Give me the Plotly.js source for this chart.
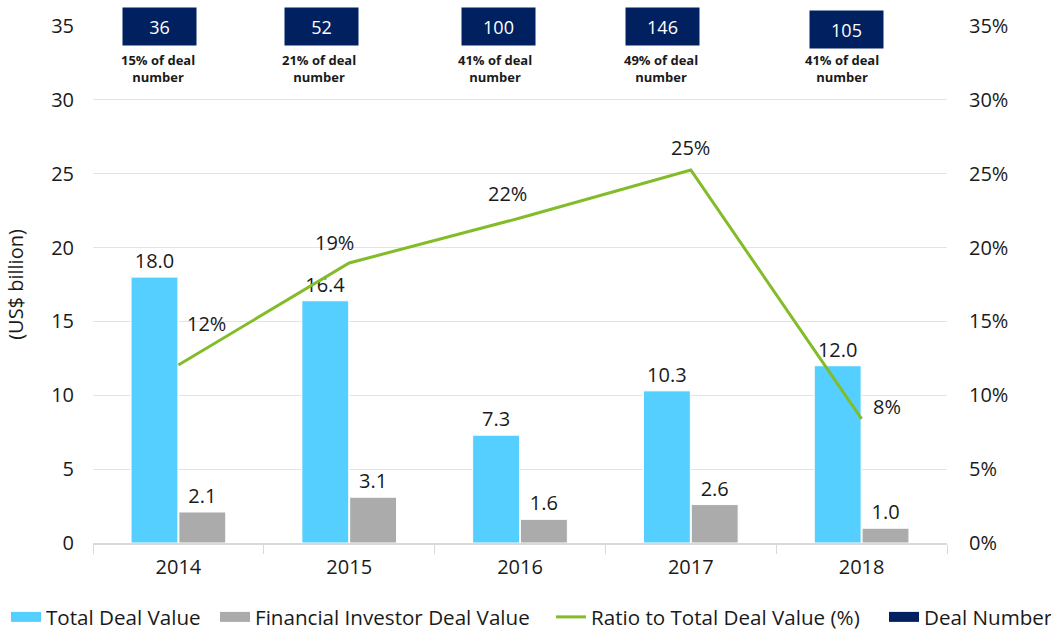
<!DOCTYPE html>
<html>
<head>
<meta charset="utf-8">
<script src="https://cdn.plot.ly/plotly-3.0.1.min.js"></script>
<style>
html,body{margin:0;padding:0;background:#fff;}
#chart{width:1051px;height:632px;}
</style>
</head>
<body>
<div id="chart"></div>
<script>
// ---- data ----
const years = ['2014', '2015', '2016', '2017', '2018'];
const totalDealValue = [18.0, 16.4, 7.3, 10.3, 12.0];
const financialInvestorValue = [2.1, 3.1, 1.6, 2.6, 1.0];
const ratioPct = [12.05, 18.96, 22.0, 25.25, 8.4];
const ratioLabels = ['12%', '19%', '22%', '25%', '8%'];
const dealNumber = [36, 52, 100, 146, 105];
const dealShareLabels = ['15% of deal number', '21% of deal number', '41% of deal number', '49% of deal number', '41% of deal number'];

// ---- styles ----
const FONT = 'Open Sans, Noto Sans, sans-serif';
const TXT = '#1a1a1a';
const BLUE = '#55cfff';
const GRAY = '#ababab';
const GREEN = '#82bc28';
const NAVY = '#002060';

const ratioShift = [[28, 42], [-15, 20], [-13, 25], [0, 23], [25, 12]];
const boxShift = [[-19, 0], [-28, 0], [-22, 0], [-28, 0], [-15, -3]];
const shareShift = [-20, -30, -25, -30, -20];

function legendKey(name, color, width, legendId) {
  return {
    type: 'scatter', mode: 'lines', name: name, x: [years[0]], y: [null],
    line: {color: color, width: width}, legend: legendId, showlegend: true, hoverinfo: 'skip'
  };
}

const traces = [
  {
    type: 'bar', name: 'Total Deal Value', x: years, y: totalDealValue,
    marker: {color: BLUE, line: {color: '#ffffff', width: 1}}, showlegend: false,
    text: totalDealValue.map(v => v.toFixed(1)), textposition: 'outside',
    textfont: {family: FONT, size: 20, color: TXT}, cliponaxis: false
  },
  {
    type: 'bar', name: 'Financial Investor Deal Value', x: years, y: financialInvestorValue,
    marker: {color: GRAY, line: {color: '#ffffff', width: 1}}, showlegend: false,
    text: financialInvestorValue.map(v => v.toFixed(1)), textposition: 'outside',
    textfont: {family: FONT, size: 20, color: TXT}, cliponaxis: false
  },
  {
    type: 'scatter', mode: 'lines', name: 'Ratio to Total Deal Value (%)', x: years, y: ratioPct,
    yaxis: 'y2', line: {color: GREEN, width: 3}, cliponaxis: false, legend: 'legend3'
  },
  legendKey('Total Deal Value', BLUE, 12, 'legend'),
  legendKey('Financial Investor Deal Value', GRAY, 12, 'legend2'),
  legendKey('Deal Number', NAVY, 12, 'legend4')
];

const annotations = [];
years.forEach((yr, i) => {
  annotations.push({
    x: i, y: ratioPct[i], xref: 'x', yref: 'y2', text: ratioLabels[i], showarrow: false,
    xshift: ratioShift[i][0], yshift: ratioShift[i][1],
    font: {family: FONT, size: 20, color: TXT}
  });
  annotations.push({
    x: i, y: 35, xref: 'x', yref: 'y', text: String(dealNumber[i]), showarrow: false,
    xshift: boxShift[i][0], yshift: boxShift[i][1], width: 71, height: 35,
    bgcolor: NAVY, font: {family: FONT, size: 18, color: '#ffffff'}, valign: 'middle'
  });
  const parts = dealShareLabels[i].split(' ');
  const label = parts.slice(0, 3).join(' ') + '<br>' + parts.slice(3).join(' ');
  annotations.push({
    x: i, y: 35, xref: 'x', yref: 'y', text: '<b>' + label + '</b>', showarrow: false,
    xshift: shareShift[i], yshift: -42,
    font: {family: FONT, size: 13, color: TXT}
  });
});

function legendAt(px) {
  return {
    orientation: 'h', xref: 'container', yref: 'container',
    x: px / 1051, xanchor: 'left', y: 15 / 632, yanchor: 'middle',
    font: {family: FONT, size: 20.6, color: TXT}, bgcolor: 'rgba(0,0,0,0)'
  };
}

const layout = {
  width: 1051, height: 632,
  margin: {l: 93, r: 104, t: 26, b: 89, autoexpand: false},
  paper_bgcolor: '#ffffff', plot_bgcolor: '#ffffff',
  font: {family: FONT, size: 20, color: TXT},
  barmode: 'group', bargap: 0.44, bargroupgap: 0.02,
  showlegend: true,
  legend: legendAt(6),
  legend2: legendAt(215),
  legend3: legendAt(551),
  legend4: legendAt(884),
  xaxis: {
    type: 'category', range: [-0.5, 4.5], showline: true, linecolor: '#d9d9d9', linewidth: 2,
    ticks: 'outside', tickson: 'boundaries', ticklen: 9, tickcolor: '#d9d9d9', tickwidth: 1,
    ticklabelstandoff: 5,
    showgrid: false, tickfont: {family: FONT, size: 20, color: TXT}
  },
  yaxis: {
    range: [0, 35], dtick: 5, showgrid: true, gridcolor: '#e3e3e3', gridwidth: 1,
    zeroline: false, showline: false,
    ticks: 'outside', ticklen: 14, tickcolor: 'rgba(0,0,0,0)',
    tickfont: {family: FONT, size: 20, color: TXT},
    title: {text: '(US$ billion)', font: {family: FONT, size: 20, color: TXT}, standoff: 22}
  },
  yaxis2: {
    range: [0, 35], dtick: 5, overlaying: 'y', side: 'right', showgrid: false,
    zeroline: false, showline: false, ticksuffix: '%',
    ticks: 'outside', ticklen: 17, tickcolor: 'rgba(0,0,0,0)',
    tickfont: {family: FONT, size: 20, color: TXT}
  },
  annotations: annotations
};

Plotly.newPlot('chart', traces, layout, {displayModeBar: false, staticPlot: true});
</script>
</body>
</html>
